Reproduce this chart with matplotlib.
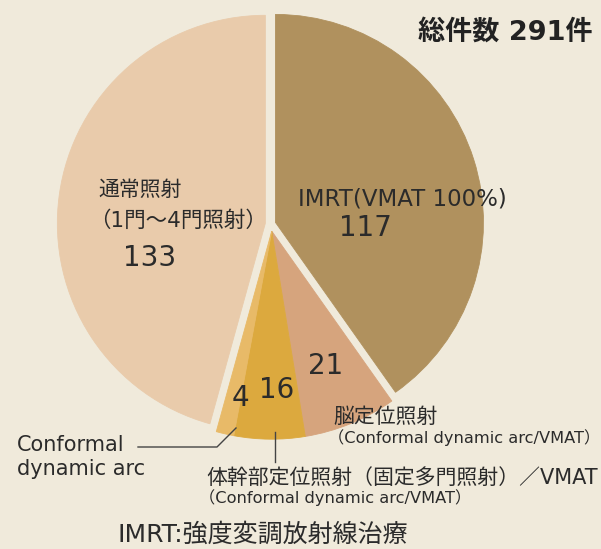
import numpy as np
import matplotlib.pyplot as plt

# Latin glyphs from DejaVu (wider, like the original), CJK from Noto
plt.rcParams['font.family'] = ['DejaVu Sans', 'Noto Sans CJK JP']

# slice values, clockwise from 12 o'clock
counts = [117, 21, 16, 4, 133]
colors = ['#b0915e', '#d6a47d', '#dca93e', '#e8ba68', '#e9cbab']
groups = [0, 1, 1, 1, 2]          # wedges that are pulled out together
group_shift = [0.025, 0.035, 0.025]
total = sum(counts)

bg = '#f0eadb'
txt = '#2b2b2b'
cx, cy, R = 270.5, 224, 208

fig = plt.figure(figsize=(6.01, 5.49), dpi=100, facecolor=bg)
ax = fig.add_axes([0, 0, 1, 1])
ax.set_facecolor(bg)

# y axis runs downward, so counterclock=True draws clockwise on screen
wedges, _ = ax.pie(counts, colors=colors, startangle=-90, counterclock=True,
                   center=(cx, cy), radius=R,
                   wedgeprops=dict(linewidth=0.6))
for w, c in zip(wedges, colors):
    w.set_edgecolor(c)

# explode each group as one piece
for g, s in enumerate(group_shift):
    members = [w for w, gg in zip(wedges, groups) if gg == g]
    t1 = min(w.theta1 for w in members)
    t2 = max(w.theta2 for w in members)
    mid = np.deg2rad((t1 + t2) / 2)
    for w in members:
        w.set_center((cx + s * R * np.cos(mid), cy + s * R * np.sin(mid)))

ax.set_xlim(0, 601)
ax.set_ylim(549, 0)
ax.set_aspect('equal')
ax.axis('off')

# labels
ax.text(593, 33, f'総件数 {total}件', fontsize=19.5, fontweight='bold', color='#222222',
        ha='right', va='center')

ax.text(98, 190, '通常照射', fontsize=15, color=txt, ha='left', va='center')
ax.text(89, 221, '（1門〜4門照射）', fontsize=15.5, color=txt, ha='left', va='center')
ax.text(150, 258, str(counts[4]), fontsize=20, color=txt, ha='center', va='center')

ax.text(402, 199, 'IMRT(VMAT 100%)', fontsize=16.5, color=txt, ha='center', va='center')
ax.text(365, 228, str(counts[0]), fontsize=20, color=txt, ha='center', va='center')

ax.text(326, 366, str(counts[1]), fontsize=20, color=txt, ha='center', va='center')
ax.text(277, 390, str(counts[2]), fontsize=20, color=txt, ha='center', va='center')
ax.text(240, 398, str(counts[3]), fontsize=20, color=txt, ha='center', va='center')

ax.text(333, 417, '脳定位照射', fontsize=15, color=txt, ha='left', va='center')
ax.text(328, 438, '（Conformal dynamic arc/VMAT）', fontsize=11.7, color=txt,
        ha='left', va='center')

ax.text(17, 445, 'Conformal', fontsize=15, color=txt, ha='left', va='center')
ax.text(17, 469, 'dynamic arc', fontsize=15, color=txt, ha='left', va='center')
ax.plot([138, 217, 236], [447, 447, 428], color='#444444', lw=1)
ax.plot([275, 275], [432, 462], color='#444444', lw=1)

ax.text(206, 478, '体幹部定位照射（固定多門照射）／VMAT', fontsize=15, color=txt,
        ha='left', va='center')
ax.text(199, 498, '（Conformal dynamic arc/VMAT）', fontsize=11.7, color=txt,
        ha='left', va='center')

ax.text(118, 535, 'IMRT:強度変調放射線治療', fontsize=18, color=txt, ha='left', va='center')

fig.savefig('out.png', dpi=100, facecolor=bg)
